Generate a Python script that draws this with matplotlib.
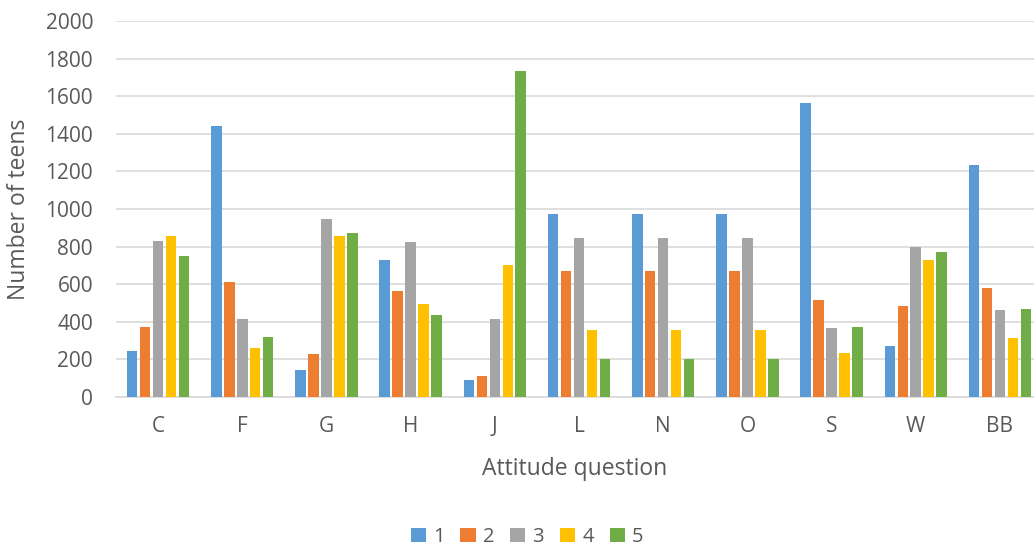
import numpy as np
import matplotlib
matplotlib.use('Agg')
import matplotlib.pyplot as plt

# Data
questions = ['C', 'F', 'G', 'H', 'J', 'L', 'N', 'O', 'S', 'W', 'BB']
resp_1 = [245, 1443, 142, 729, 89, 975, 975, 975, 1566, 271, 1232]
resp_2 = [372, 610, 229, 566, 110, 672, 672, 672, 514, 482, 578]
resp_3 = [828, 413, 949, 823, 417, 848, 848, 848, 365, 796, 461]
resp_4 = [856, 261, 856, 493, 700, 355, 355, 355, 232, 729, 312]
resp_5 = [748, 321, 874, 438, 1732, 200, 200, 200, 371, 773, 466]
series_names = ['1', '2', '3', '4', '5']

colors = ['#5B9BD5', '#ED7D31', '#A5A5A5', '#FFC000', '#70AD47']
text_color = '#595959'

plt.rcParams['font.family'] = ['Open Sans', 'DejaVu Sans']

fig = plt.figure(figsize=(10.34, 5.48), dpi=100)
ax = fig.add_axes([116 / 1034, 1 - 397 / 548, (1034 - 116) / 1034, 376 / 548])

x = np.arange(len(questions))
step = 0.154
width = 0.125
all_series = [resp_1, resp_2, resp_3, resp_4, resp_5]
for i, vals in enumerate(all_series):
	ax.bar(x + (i - 2) * step, vals, width, color=colors[i], label=series_names[i], zorder=3)

ax.set_ylim(0, 2000)
ax.set_yticks(np.arange(0, 2001, 200))
ax.set_xticks(x)
ax.set_xticklabels(questions)
# axes extends a bit past the right edge in the original
ax.set_xlim(-0.5, 10.5 - 8 / 84.2)

ax.yaxis.grid(True, color='#D9D9D9', linewidth=1.2, zorder=0)
for side in ['top', 'right', 'left']:
	ax.spines[side].set_visible(False)
ax.spines['bottom'].set_color('#D9D9D9')
ax.spines['bottom'].set_linewidth(1.2)
ax.tick_params(axis='both', length=0, colors=text_color, labelsize=15)
ax.tick_params(axis='y', pad=16.5)
ax.tick_params(axis='x', pad=14)

ax.set_xlabel('Attitude question', fontsize=16.5, color=text_color, labelpad=14)
ax.set_ylabel('Number of teens', fontsize=16.5, color=text_color)
ax.yaxis.set_label_coords((31 - 116) / 918, 0.5)

fig.legend(loc='center', bbox_to_anchor=(527 / 1034, 1 - 537 / 548), ncol=5, frameon=False,
	fontsize=14.5, handlelength=0.75, handleheight=0.75, handletextpad=0.35, columnspacing=0.8,
	labelcolor=text_color)

fig.savefig('out.png', dpi=100)
